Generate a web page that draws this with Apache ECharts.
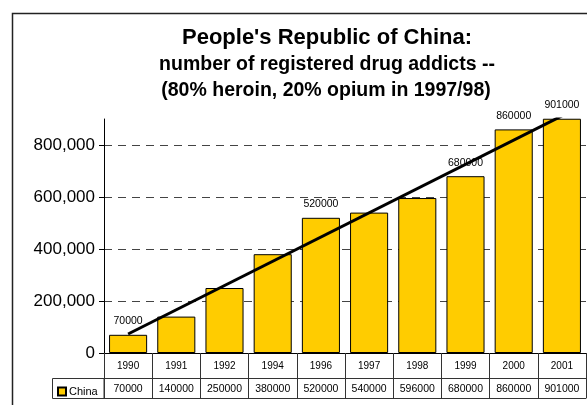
<!DOCTYPE html>
<html>
<head>
<meta charset="utf-8">
<script src="https://cdn.jsdelivr.net/npm/echarts@6/dist/echarts.min.js"></script>
<style>
  html, body { margin: 0; padding: 0; background: #fff; }
  #chart { width: 587px; height: 405px; }
</style>
</head>
<body>
<div id="chart"></div>
<script>
const years = ["1990", "1991", "1992", "1994", "1996", "1997", "1998", "1999", "2000", "2001"];
const addicts = [70000, 140000, 250000, 380000, 520000, 540000, 596000, 680000, 860000, 901000];
const labeledYears = ["1990", "1996", "1999", "2000", "2001"];
// trend line end points
const trendYears = ["1990", "2001"];
const trendValues = [73000, 912000];
const yTicks = [0, 200000, 400000, 600000, 800000];

const FONT = "Liberation Sans, Arial, sans-serif";

const chart = echarts.init(document.getElementById("chart"), null, { renderer: "canvas" });

chart.setOption({
  animation: false,
  backgroundColor: "#fff",
  title: [
    { text: "People's Republic of China:", left: 322, top: 22, textAlign: "center",
      textStyle: { fontFamily: FONT, fontSize: 22, fontWeight: "bold", color: "#000" } },
    { text: "number of registered drug addicts --", left: 322, top: 50, textAlign: "center",
      textStyle: { fontFamily: FONT, fontSize: 19.5, fontWeight: "bold", color: "#000" } },
    { text: "(80% heroin, 20% opium in 1997/98)", left: 321, top: 76, textAlign: "center",
      textStyle: { fontFamily: FONT, fontSize: 19.5, fontWeight: "bold", color: "#000" } },
  ],
  legend: {
    data: ["China"],
    left: 52, top: 381,
    itemWidth: 8, itemHeight: 8, itemGap: 0,
    icon: "rect",
    textStyle: { fontFamily: FONT, fontSize: 11, color: "#000", padding: [0, 0, 0, -2] },
  },
  grid: { left: 104, right: 1, top: 119, bottom: 52, containLabel: false },
  xAxis: [
    {
      type: "category", data: years,
      axisLine: { lineStyle: { color: "#000", width: 1 } },
      axisTick: { show: true, length: 45, lineStyle: { color: "#333" } },
      axisLabel: { margin: 8, fontFamily: FONT, fontSize: 10, color: "#000" },
    },
    {
      type: "category", data: addicts.map(String), position: "bottom", offset: 25,
      axisLine: { lineStyle: { color: "#333", width: 1 } },
      axisTick: { show: false },
      axisLabel: { margin: 6, fontFamily: FONT, fontSize: 10.5, color: "#000" },
    },
    {
      type: "category", data: years, position: "bottom", offset: 45,
      axisLine: { lineStyle: { color: "#333", width: 1 } },
      axisTick: { show: false },
      axisLabel: { show: false },
    },
  ],
  yAxis: {
    type: "value", min: 0, max: 900000, interval: 200000,
    axisLine: { show: true, lineStyle: { color: "#000", width: 1 } },
    axisTick: { show: true, length: 5, customValues: yTicks, lineStyle: { color: "#000" } },
    axisLabel: {
      margin: 9, customValues: yTicks, fontFamily: FONT, fontSize: 17, color: "#000",
      formatter: (v) => v.toLocaleString("en-US"),
    },
    splitLine: { show: true, lineStyle: { color: "#444", type: [8, 6], width: 1 } },
  },
  series: [
    {
      name: "China", type: "bar", barCategoryGap: "21%",
      itemStyle: { color: "#FFCC00", borderColor: "#000", borderWidth: 1 },
      data: addicts.map((v, i) => ({
        value: v,
        label: {
          show: labeledYears.includes(years[i]), position: "top", distance: 8,
          fontFamily: FONT, fontSize: 10.5, color: "#000",
        },
      })),
    },
    {
      name: "Trend", type: "line", symbol: "none", z: 5,
      lineStyle: { color: "#000", width: 3 },
      data: trendYears.map((y, i) => [y, trendValues[i]]),
    },
  ],
  graphic: [
    { type: "rect", shape: { x: 12.5, y: 13.5, width: 700, height: 500 },
      style: { fill: null, stroke: "#222", lineWidth: 1.5 }, silent: true },
    { type: "rect", shape: { x: 52.5, y: 378.5, width: 51.5, height: 20 },
      style: { fill: null, stroke: "#333", lineWidth: 1 }, silent: true },
  ],
});
</script>
</body>
</html>
